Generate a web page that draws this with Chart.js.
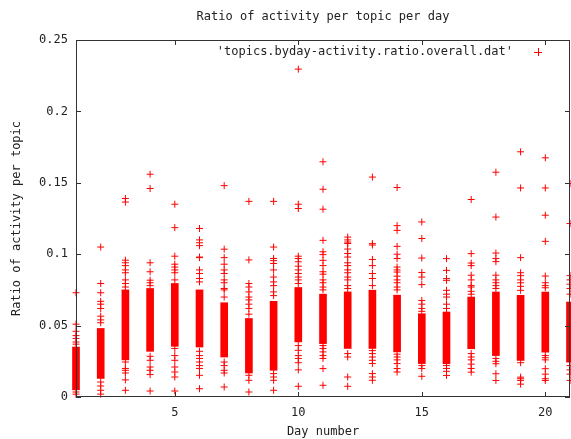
<!DOCTYPE html>
<html>
<head>
<meta charset="utf-8">
<script src="https://cdn.jsdelivr.net/npm/chart.js@4/dist/chart.umd.min.js"></script>
<style>
  body { margin: 0; background: #fff; }
  canvas { display: block; }
</style>
</head>
<body>
<canvas id="myChart" width="571" height="439"></canvas>
<script>
// Day numbers on the x axis
const days = [1, 2, 3, 4, 5, 6, 7, 8, 9, 10, 11, 12, 13, 14, 15, 16, 17, 18, 19, 20, 21];

// Solid part of each column (where the + marks overlap into one block)
const bandLow  = [0.005, 0.013, 0.026, 0.032, 0.0355, 0.035, 0.028, 0.0168, 0.0187, 0.0386, 0.0374,
                  0.034, 0.034, 0.0316, 0.0234, 0.0233, 0.0338, 0.029, 0.0256, 0.0314, 0.0244];
const bandHigh = [0.035, 0.048, 0.075, 0.076, 0.0795, 0.075, 0.066, 0.055, 0.067, 0.0767, 0.072,
                  0.0736, 0.0748, 0.0713, 0.0583, 0.0595, 0.070, 0.0735, 0.0712, 0.0735, 0.0665];

// Separate + marks above and below the solid part, one list per day
const spread = [
  [0.073, 0.051, 0.046, 0.043, 0.041, 0.0385, 0.037, 0.0035, 0.002],
  [0.105, 0.0795, 0.073, 0.067, 0.065, 0.062, 0.0566, 0.054, 0.052, 0.0105, 0.0077, 0.0047, 0.002],
  [0.139, 0.1365, 0.0958, 0.094, 0.092, 0.089, 0.087, 0.082, 0.0795, 0.077, 0.0245, 0.020, 0.0187, 0.0168, 0.012, 0.0047],
  [0.156, 0.146, 0.094, 0.0877, 0.0818, 0.080, 0.078, 0.0285, 0.0257, 0.021, 0.0187, 0.0157, 0.0042],
  [0.135, 0.1186, 0.0986, 0.093, 0.091, 0.089, 0.087, 0.082, 0.034, 0.029, 0.0257, 0.021, 0.0175, 0.014, 0.0042],
  [0.118, 0.110, 0.108, 0.106, 0.098, 0.0976, 0.089, 0.0865, 0.083, 0.0806, 0.032, 0.029, 0.027, 0.0245, 0.022, 0.020, 0.0152, 0.0058],
  [0.148, 0.1035, 0.0976, 0.093, 0.089, 0.0865, 0.082, 0.080, 0.076, 0.075, 0.070, 0.0245, 0.022, 0.0187, 0.0168, 0.007],
  [0.137, 0.096, 0.0795, 0.077, 0.0736, 0.070, 0.068, 0.065, 0.062, 0.058, 0.0152, 0.0117, 0.0035],
  [0.137, 0.105, 0.097, 0.0955, 0.0935, 0.089, 0.084, 0.0806, 0.078, 0.0736, 0.071, 0.0164, 0.014, 0.0117, 0.0047],
  [0.2296, 0.135, 0.132, 0.0986, 0.097, 0.0947, 0.0916, 0.089, 0.0865, 0.084, 0.082, 0.0795, 0.036, 0.0327, 0.029, 0.027, 0.024, 0.019, 0.0075],
  [0.1647, 0.1455, 0.1315, 0.1097, 0.1017, 0.0997, 0.0957, 0.092, 0.0877, 0.086, 0.082, 0.080, 0.077, 0.075, 0.036, 0.034, 0.0316, 0.029, 0.027, 0.0199, 0.0082],
  [0.112, 0.110, 0.1085, 0.1075, 0.1036, 0.1005, 0.098, 0.094, 0.092, 0.089, 0.087, 0.084, 0.082, 0.078, 0.076, 0.0304, 0.028, 0.014, 0.0075],
  [0.154, 0.1074, 0.1064, 0.0963, 0.092, 0.0865, 0.083, 0.078, 0.0325, 0.0304, 0.028, 0.0257, 0.0234, 0.0164, 0.014, 0.0117],
  [0.1467, 0.120, 0.1167, 0.1055, 0.100, 0.097, 0.091, 0.089, 0.0875, 0.0846, 0.082, 0.080, 0.077, 0.075, 0.030, 0.028, 0.026, 0.0234, 0.0199, 0.0175],
  [0.1226, 0.111, 0.0973, 0.0872, 0.084, 0.0787, 0.0676, 0.065, 0.062, 0.060, 0.022, 0.0199, 0.0145],
  [0.0969, 0.0887, 0.0829, 0.0817, 0.0747, 0.072, 0.070, 0.065, 0.062, 0.022, 0.020, 0.018, 0.0151],
  [0.1383, 0.1004, 0.0938, 0.092, 0.0853, 0.082, 0.078, 0.077, 0.074, 0.072, 0.0304, 0.028, 0.026, 0.023, 0.020, 0.0174],
  [0.1574, 0.126, 0.1008, 0.097, 0.0948, 0.0853, 0.082, 0.080, 0.078, 0.076, 0.027, 0.025, 0.0233, 0.0163, 0.0116],
  [0.1717, 0.1464, 0.0976, 0.087, 0.085, 0.082, 0.080, 0.0775, 0.0747, 0.024, 0.0139, 0.0128, 0.0116, 0.009],
  [0.1675, 0.1464, 0.1273, 0.109, 0.0847, 0.080, 0.078, 0.0765, 0.029, 0.0275, 0.026, 0.0198, 0.016, 0.0128, 0.0116],
  [0.1495, 0.1215, 0.085, 0.082, 0.079, 0.076, 0.072, 0.022, 0.019, 0.016, 0.0116]
];

// Tick labels
const xTicks = [5, 10, 15, 20];
const yTicks = [0, 0.05, 0.1, 0.15, 0.2, 0.25];

const titleText = 'Ratio of activity per topic per day';
const keyText = "'topics.byday-activity.ratio.overall.dat'";
const FONT = '"DejaVu Sans Mono", "Liberation Mono", monospace';
const RED = '#ff0000';

// gnuplot style frame: box, inward ticks on all four sides, title and key
const gnuplotFrame = {
    id: 'gnuplotFrame',
    afterDatasetsDraw(chart) {
        const { ctx, chartArea: a, scales } = chart;
        const tick = 5;
        ctx.save();
        ctx.strokeStyle = '#333';
        ctx.lineWidth = 1;
        ctx.strokeRect(Math.round(a.left) + 0.5, Math.round(a.top) + 0.5,
                       Math.round(a.right - a.left) - 1, Math.round(a.bottom - a.top) - 1);
        ctx.beginPath();
        xTicks.forEach(v => {
            const px = Math.round(scales.x.getPixelForValue(v)) + 0.5;
            ctx.moveTo(px, a.bottom); ctx.lineTo(px, a.bottom - tick);
            ctx.moveTo(px, a.top); ctx.lineTo(px, a.top + tick);
        });
        yTicks.forEach(v => {
            const py = Math.round(scales.y.getPixelForValue(v)) + 0.5;
            ctx.moveTo(a.left, py); ctx.lineTo(a.left + tick, py);
            ctx.moveTo(a.right, py); ctx.lineTo(a.right - tick, py);
        });
        ctx.stroke();

        ctx.fillStyle = '#222';
        ctx.font = '12px ' + FONT;
        ctx.textBaseline = 'middle';
        ctx.textAlign = 'center';
        ctx.fillText(titleText, (a.left + a.right) / 2, 17);

        // key
        ctx.textAlign = 'right';
        ctx.fillText(keyText, 513, 52);
        ctx.strokeStyle = RED;
        ctx.beginPath();
        ctx.moveTo(534, 52.5); ctx.lineTo(542, 52.5);
        ctx.moveTo(538.5, 48); ctx.lineTo(538.5, 56);
        ctx.stroke();
        ctx.restore();
    }
};

function createChart() {
    const ctx = document.getElementById('myChart').getContext('2d');

    const bandData = days.map((d, i) => ({ x: d, y: [bandLow[i], bandHigh[i]] }));
    const pointData = [];
    days.forEach((d, i) => spread[i].forEach(v => pointData.push({ x: d, y: v })));

    new Chart(ctx, {
        type: 'scatter',
        data: {
            datasets: [
                {
                    type: 'bar',
                    data: bandData,
                    backgroundColor: RED,
                    borderWidth: 0,
                    barThickness: 7,
                    clip: false
                },
                {
                    type: 'scatter',
                    data: pointData,
                    pointStyle: 'cross',
                    pointRadius: 3.5,
                    borderColor: RED,
                    backgroundColor: RED,
                    borderWidth: 1,
                    clip: false
                }
            ]
        },
        options: {
            responsive: false,
            animation: false,
            layout: { autoPadding: false, padding: { top: 40, right: 1, left: 0, bottom: 0 } },
            plugins: {
                legend: { display: false },
                tooltip: { enabled: false }
            },
            scales: {
                x: {
                    type: 'linear',
                    min: 1,
                    max: 21,
                    offset: false,
                    afterFit: s => { s.height = 42; s.paddingLeft = 0; s.paddingRight = 0; },
                    afterBuildTicks: s => { s.ticks = xTicks.map(v => ({ value: v })); },
                    grid: { display: false, drawTicks: false, offset: false },
                    border: { display: false },
                    ticks: { padding: 9, color: '#222', font: { family: FONT, size: 12 } },
                    title: {
                        display: true,
                        text: 'Day number',
                        color: '#222',
                        font: { family: FONT, size: 12 },
                        padding: { top: 0, bottom: 0 }
                    }
                },
                y: {
                    min: 0,
                    max: 0.25,
                    afterFit: s => { s.width = 76; s.paddingTop = 0; s.paddingBottom = 0; },
                    afterBuildTicks: s => { s.ticks = yTicks.map(v => ({ value: v })); },
                    grid: { display: false, drawTicks: false },
                    border: { display: false },
                    ticks: {
                        padding: 8,
                        color: '#222',
                        font: { family: FONT, size: 12 },
                        callback: v => String(+v.toFixed(2))
                    },
                    title: {
                        display: true,
                        text: 'Ratio of activity per topic',
                        color: '#222',
                        font: { family: FONT, size: 12 },
                        padding: { top: 10, bottom: 0 }
                    }
                }
            }
        },
        plugins: [gnuplotFrame]
    });
}

createChart();
</script>
</body>
</html>
